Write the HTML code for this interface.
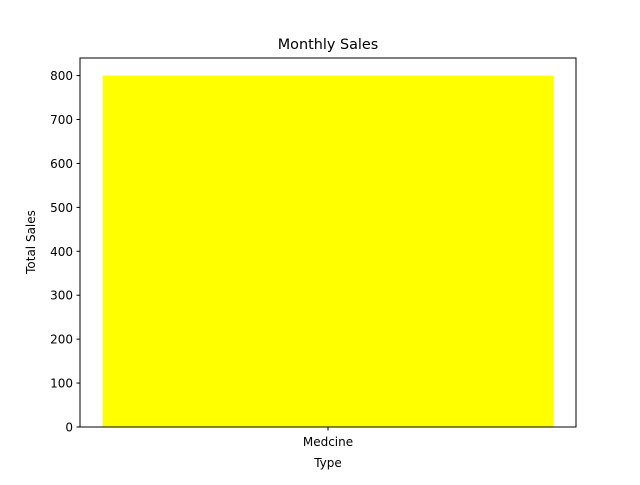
<!DOCTYPE html>
<html><head><meta charset="utf-8"><style>
body{margin:0;background:#fff;font-family:"Liberation Sans","DejaVu Sans",sans-serif;}
svg text{font-family:"DejaVu Sans","Liberation Sans",sans-serif;}
</style></head><body>
<svg id="chart" width="640" height="480" xmlns="http://www.w3.org/2000/svg">
<rect width="640" height="480" fill="#fff"/>
<text x="328" y="49" font-size="14.4" text-anchor="middle">Monthly Sales</text>
<g id="bars"></g>
<g id="yticks"></g>
<g id="xticks"></g>
<rect x="80" y="58" width="496" height="369" fill="none" stroke="#000" stroke-width="1"/>
<text x="328" y="467" font-size="12" text-anchor="middle">Type</text>
<text transform="translate(35,242) rotate(-90)" font-size="12" text-anchor="middle">Total Sales</text>
</svg>
<script>
const categories=["Medcine"];
const values=[800];
const yTicks=[0,100,200,300,400,500,600,700,800];
const NS="http://www.w3.org/2000/svg";
const L=80,R=576,T=58,B=427;
const ymax=Math.max(...values)*1.05;
const y=v=>B-v/ymax*(B-T);
const n=categories.length;
const margin=0.05*(n-1+0.8);
const xmin=-0.4-margin, xmax=(n-1)+0.4+margin;
const x=v=>L+(v-xmin)/(xmax-xmin)*(R-L);
const bars=document.getElementById('bars');
categories.forEach((c,i)=>{
 const r=document.createElementNS(NS,'rect');
 r.setAttribute('x',x(i-0.4));r.setAttribute('width',x(i+0.4)-x(i-0.4));
 r.setAttribute('y',y(values[i]));r.setAttribute('height',B-y(values[i]));
 r.setAttribute('fill','#ffff00');
 
 
 bars.appendChild(r);
 const g=document.getElementById('xticks');
 const l=document.createElementNS(NS,'line');
 l.setAttribute('x1',x(i));l.setAttribute('x2',x(i));l.setAttribute('y1',B);l.setAttribute('y2',B+3.5);l.setAttribute('stroke','#000');
 
 
 g.appendChild(l);
 const t=document.createElementNS(NS,'text');
 t.setAttribute('x',x(i));t.setAttribute('y',B+19);t.setAttribute('font-size','12');t.setAttribute('text-anchor','middle');t.textContent=c;
 
 
 g.appendChild(t);
});
const yg=document.getElementById('yticks');
yTicks.forEach(v=>{
 const l=document.createElementNS(NS,'line');
 l.setAttribute('x1',L-3.5);l.setAttribute('x2',L);l.setAttribute('y1',y(v));l.setAttribute('y2',y(v));l.setAttribute('stroke','#000');
 
 
 yg.appendChild(l);
 const t=document.createElementNS(NS,'text');
 t.setAttribute('x',L-7);t.setAttribute('y',y(v)+4.5);t.setAttribute('font-size','12');t.setAttribute('text-anchor','end');t.textContent=v;
 
 
 yg.appendChild(t);
});
</script>
</body></html>
